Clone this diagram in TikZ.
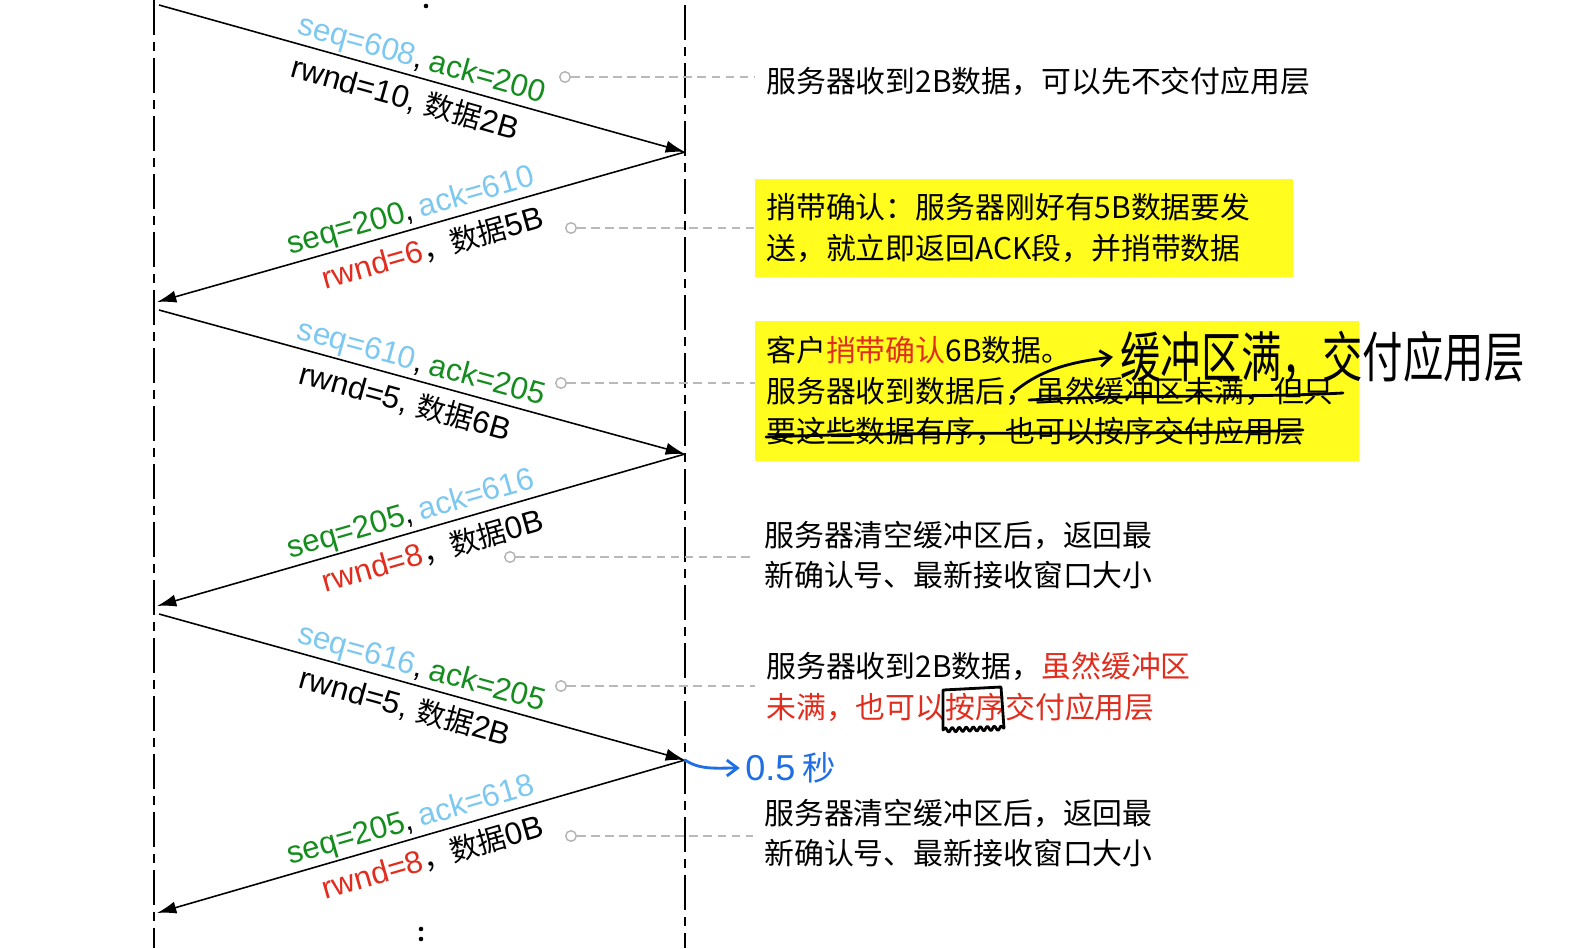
\documentclass[tikz,border=0pt]{standalone}
\usepackage{fontspec}
\setmainfont{Noto Sans CJK SC}
\newfontfamily\lat{Liberation Sans}[Scale=1.08]
\usetikzlibrary{arrows.meta,decorations.pathmorphing}

\definecolor{seqblue}{RGB}{125,200,240}
\definecolor{ackgreen}{RGB}{20,140,30}
\definecolor{rwndred}{RGB}{225,45,30}
\definecolor{hlyellow}{RGB}{255,252,30}
\definecolor{penblue}{RGB}{30,110,230}

\tikzset{
  lifeline/.style={line width=0.9pt, dash pattern=on 20pt off 4pt on 5pt off 4pt},
  msg/.style={line width=0.9pt, -{Latex[length=11pt,width=7pt]}},
  lbl/.style={sloped, inner sep=1pt, font=\fontsize{16.5}{20}\selectfont},
  note/.style={anchor=west, align=left, inner xsep=0.22cm, inner ysep=0pt,
    font=\fontsize{17}{23}\selectfont},
  hlbox/.style={note, fill=hlyellow},
  leader/.style={gray!55, line width=0.8pt, dash pattern=on 5pt off 3pt},
  dotend/.style={circle, draw=gray!60, fill=white, line width=0.8pt,
    minimum size=6pt, inner sep=0pt},
  pen/.style={line width=1.6pt, line cap=round, line join=round},
}

\begin{document}
\begin{tikzpicture}[x=0.02cm, y=-0.02cm]
  \useasboundingbox (0,0) rectangle (1590,948);
  % client and server
  \draw[lifeline] (154,0) -- (154,948);
  \draw[lifeline] (685,5) -- (685,948);
  \fill (426,6) circle (1.3pt);
  \fill (421,929) circle (1.3pt);
  \fill (421,939) circle (1.3pt);

  \coordinate (c0) at (159,5);
  \coordinate (s1) at (685,152);
  \coordinate (c1) at (157,302);
  \coordinate (c1b) at (159,310);
  \coordinate (s2) at (685,454);
  \coordinate (c2) at (157,606);
  \coordinate (c2b) at (159,614);
  \coordinate (s3) at (685,760);
  \coordinate (c3) at (157,913);

  % segments
  \draw[msg] (c0) -- (s1)
    node[lbl, above, pos=0.49] (m1a) {{\lat\color{seqblue}seq=608}{\lat,} {\lat\color{ackgreen}ack=200}}
    node[lbl, below=4pt, pos=0.48] (m1b) {{\lat rwnd=10, }数据{\lat 2B}};
  \draw[msg] (s1) -- (c1)
    node[lbl, above, pos=0.51] (m2a) {{\lat\color{ackgreen}seq=200}{\lat,} {\lat\color{seqblue}ack=610}}
    node[lbl, below=4pt, pos=0.49] (m2b) {{\lat\color{rwndred}rwnd=6}，数据{\lat 5B}};
  \draw[msg] (c1b) -- (s2)
    node[lbl, above, pos=0.49] (m3a) {{\lat\color{seqblue}seq=610}{\lat,} {\lat\color{ackgreen}ack=205}}
    node[lbl, below=4pt, pos=0.48] (m3b) {{\lat rwnd=5, }数据{\lat 6B}};
  \draw[msg] (s2) -- (c2)
    node[lbl, above, pos=0.51] (m4a) {{\lat\color{ackgreen}seq=205}{\lat,} {\lat\color{seqblue}ack=616}}
    node[lbl, below=4pt, pos=0.49] (m4b) {{\lat\color{rwndred}rwnd=8}，数据{\lat 0B}};
  \draw[msg] (c2b) -- (s3)
    node[lbl, above, pos=0.49] (m5a) {{\lat\color{seqblue}seq=616}{\lat,} {\lat\color{ackgreen}ack=205}}
    node[lbl, below=4pt, pos=0.48] (m5b) {{\lat rwnd=5, }数据{\lat 2B}};
  \draw[msg] (s3) -- (c3)
    node[lbl, above, pos=0.51] (m6a) {{\lat\color{ackgreen}seq=205}{\lat,} {\lat\color{seqblue}ack=618}}
    node[lbl, below=4pt, pos=0.49] (m6b) {{\lat\color{rwndred}rwnd=8}，数据{\lat 0B}};

  % notes
  \node[note] (n1) at (755,81) {服务器收到2B数据，可以先不交付应用层};
  \node[hlbox, text width=10.32cm, minimum height=1.96cm] (n2) at (755,228)
    {捎带确认：服务器刚好有5B数据要发\\送，就立即返回ACK段，并捎带数据};
  \node[hlbox, text width=11.64cm, minimum height=2.82cm] (n3) at (755,391)
    {客户{\color{rwndred}捎带确认}6B数据。\\服务器收到数据后，虽然缓冲区未满，但只\\要这些数据有序，也可以按序交付应用层};
  \node[note] (n4) at (753,555) {服务器清空缓冲区后，返回最\\新确认号、最新接收窗口大小};
  \node[note] (n5) at (755,687)
    {服务器收到2B数据，{\color{rwndred}虽然缓冲区}\\{\color{rwndred}未满，也可以按序交付应用层}};
  \node[note] (n6) at (753,833) {服务器清空缓冲区后，返回最\\新确认号、最新接收窗口大小};

  % leaders
  \foreach \i/\x/\y in {1/565/77, 2/571/228, 3/561/383, 4/510/557, 5/561/686, 6/571/836} {
    \node[dotend] (d\i) at (\x,\y) {};
    \draw[leader] (d\i) -- (d\i -| n\i.west);
  }

  % pen marks
  \draw[pen] (1029,400) .. controls (1150,394) and (1250,398) .. (1343,393);
  \draw[pen] (766,437) .. controls (950,430) and (1150,436) .. (1303,430);
  \node[anchor=west, inner sep=0pt, yscale=1.35, transform shape, font=\fontsize{23}{23}\selectfont] (hw) at (1120,357) {缓冲区满，交付应用层};
  \coordinate (h0) at (1014,392);
  \draw[pen, -{Straight Barb[length=6pt,width=9pt]}] (h0) .. controls (1040,370) and (1070,362) .. ([xshift=-4pt]hw.west);
  \draw[pen] (943,730) -- (943,690) -- (1001,687) -- (1004,728);
  \draw[pen, decorate, decoration={snake, amplitude=1.2pt, segment length=4pt}] (943,730) -- (1004,728);
  \node[anchor=west, inner sep=0pt, text=penblue, font=\fontsize{19}{19}\selectfont] (sec) at (745,768) {{\lat 0.5} 秒};
  \draw[pen, penblue, -{Straight Barb[length=6pt,width=9pt]}] (s3) .. controls (700,770) and (715,768) .. ([xshift=-3pt]sec.west);
\end{tikzpicture}
\end{document}
